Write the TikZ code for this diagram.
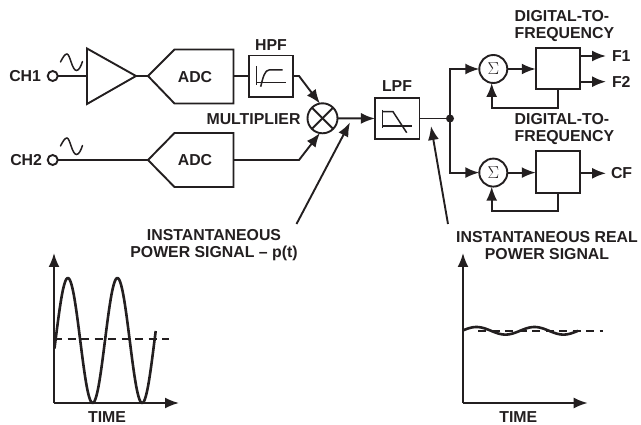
\documentclass[tikz,border=0pt]{standalone}
\usepackage{fontspec}
\setmainfont{Liberation Sans}
\usetikzlibrary{arrows.meta}
\definecolor{ink}{HTML}{231F20}
\tikzset{
  x=1pt,y=-1pt,
  wire/.style={draw=ink,line width=1.9pt,line join=miter},
  arrowwire/.style={wire,-{Latex[length=14pt,width=11pt]}},
  thin wire/.style={draw=ink,line width=1.5pt},
  boxnode/.style={draw=ink,line width=1.9pt,rectangle,inner sep=0pt,outer sep=0pt},
  roundnode/.style={draw=ink,line width=1.9pt,circle,inner sep=0pt,outer sep=0pt},
  label/.style={font=\fontsize{15.85}{17}\selectfont\bfseries,text=ink,inner sep=0pt,outer sep=0pt},
  twoline/.style={label,align=center},
  leftlines/.style={label,align=left,anchor=west},
  dashline/.style={draw=ink,line width=1.7pt,dash pattern=on 8pt off 5.5pt},
  sigmatext/.style={font=\fontsize{17}{17}\selectfont,text=ink},
}
\begin{document}
\begin{tikzpicture}
\useasboundingbox (0,0) rectangle (641,425);
% input terminals
\node[roundnode,minimum size=10pt] (ch1) at (52.7,76) {};
\node[roundnode,minimum size=10pt] (ch2) at (52.7,160) {};
\node[label,anchor=east] (ch1t) at (41,76) {CH1};
\node[label,anchor=east] (ch2t) at (42,160) {CH2};
% sine marks
\draw[thin wire,line cap=round] (60.5,62) .. controls (63,57) and (65,54) .. (67,54) .. controls (70,54) and (72,70.5) .. (76.5,70.5) .. controls (79,70.5) and (81,66) .. (82.5,61.5);
\draw[thin wire,line cap=round] (60.5,146) .. controls (63,141) and (65,138) .. (67,138) .. controls (70,138) and (72,154.5) .. (76.5,154.5) .. controls (79,154.5) and (81,150) .. (82.5,145.5);
% amplifier and ADCs
\coordinate (ampin) at (87,76);
\coordinate (ampout) at (136,76);
\draw[wire,line join=miter] (87,48.5) -- (ampout) -- (87,104) -- cycle;
\coordinate (adcAin) at (148,76);
\coordinate (adcAout) at (233.5,76);
\draw[wire] (adcAin) -- (174.5,49.5) -- (233.5,49.5) -- (233.5,103.5) -- (174.5,103.5) -- cycle;
\node[label] (adcA) at (195,77) {ADC};
\coordinate (adcBin) at (148,160);
\coordinate (adcBout) at (233.5,160);
\draw[wire] (adcBin) -- (174.5,133) -- (233.5,133) -- (233.5,187) -- (174.5,187) -- cycle;
\node[label] (adcB) at (195,160) {ADC};
% filters
\node[boxnode,minimum width=44.5pt,minimum height=41.5pt] (hpf) at (270.8,76.3) {};
\node[label] (hpft) at (271,45.5) {HPF};
\draw[thin wire] (256.7,66) -- (256.7,85);
\draw[thin wire] (256.7,82.3) -- (286,82.3);
\draw[thin wire] (260.7,86.7) .. controls (263,77) and (265,70) .. (269,70) -- (282.7,70);
\node[boxnode,minimum width=44.5pt,minimum height=41.5pt] (lpf) at (397.2,118.5) {};
\node[label] (lpft) at (397,86) {LPF};
\draw[thin wire] (382.7,110) -- (382.7,127.7);
\draw[thin wire] (382.7,126) -- (411.7,126);
\draw[thin wire] (382.7,111.7) -- (393,111.7) -- (406.7,132.7);
% multiplier
\node[roundnode,minimum size=30pt] (mul) at (322.5,118.3) {};
\draw[wire] (mul.45) -- (mul.225);
\draw[wire] (mul.135) -- (mul.315);
\node[label,anchor=east] (mult) at (300.5,119) {MULTIPLIER};
% summers and converters
\node[roundnode,minimum size=28pt,sigmatext] (sumA) at (493.3,69) {$\Sigma$};
\node[roundnode,minimum size=28pt,sigmatext] (sumB) at (493.3,172.6) {$\Sigma$};
\node[boxnode,minimum width=44.5pt,minimum height=41.5pt] (dfA) at (558,68.5) {};
\node[boxnode,minimum width=44.5pt,minimum height=41.5pt] (dfB) at (558,172) {};
\node[leftlines] (dfAt) at (514.7,26.5) {DIGITAL-TO-\\FREQUENCY};
\node[leftlines] (dfBt) at (514.7,129) {DIGITAL-TO-\\FREQUENCY};
\node[circle,fill=ink,inner sep=0pt,minimum size=8pt] (junc) at (450,118.5) {};
% outputs
\node[label,anchor=west] (f1) at (612,56.5) {F1};
\node[label,anchor=west] (f2) at (612,82) {F2};
\node[label,anchor=west] (cf) at (611,173) {CF};
% connectors
\draw[wire] (ch1) -- (ampin);
\draw[wire] (ampout) -- (adcAin);
\draw[wire] (adcAout) -- (hpf.west|-adcAout);
\draw[wire] (ch2) -- (adcBin);
\coordinate (hpfk) at (299,76);
\coordinate (mulk) at (299,160);
\draw[arrowwire] (hpf.east|-hpfk) -- (hpfk) -- (mul.100);
\draw[arrowwire] (adcBout) -- (mulk) -- (mul.260);
\draw[arrowwire] (mul.east) -- (lpf.west);
\draw[wire] (lpf.east) -- (junc);
\draw[arrowwire] (junc.center) |- (sumA.west);
\draw[arrowwire] (junc.center) |- (sumB.west);
\draw[arrowwire] (sumA.east) -- (dfA.west|-sumA);
\draw[arrowwire] (sumB.east) -- (dfB.west|-sumB);
\coordinate (f1e) at (606,56);
\coordinate (f2e) at (606,81.7);
\coordinate (cfe) at (606,173.3);
\draw[arrowwire] (dfA.east|-f1e) -- (f1e);
\draw[arrowwire] (dfA.east|-f2e) -- (f2e);
\draw[arrowwire] (dfB.east|-cfe) -- (cfe);
\coordinate (fbA) at (558.3,108);
\coordinate (fbB) at (558.3,211);
\coordinate (fbAl) at (491.7,108);
\coordinate (fbBl) at (491.7,211);
\draw[arrowwire] (dfA.south-|fbA) -- (fbA) -- (fbAl) -- (sumA.south-|fbAl);
\draw[arrowwire] (dfB.south-|fbB) -- (fbB) -- (fbBl) -- (sumB.south-|fbBl);
% signal callouts
\node[twoline] (pt) at (214,245.5) {INSTANTANEOUS\\POWER SIGNAL – p(t)};
\node[twoline] (rp) at (547,245.5) {INSTANTANEOUS REAL\\POWER SIGNAL};
\coordinate (ptfrom) at (296.5,224);
\coordinate (pttip) at (350,122.5);
\coordinate (rpfrom) at (448,224);
\coordinate (rptip) at (431,126);
\draw[arrowwire] (ptfrom) -- (pttip);
\draw[arrowwire] (rpfrom) -- (rptip);
% left plot
\coordinate (lo) at (54,403);
\coordinate (ly) at (54,253);
\coordinate (lx) at (179,403);
\draw[arrowwire] (lo) -- (ly);
\draw[arrowwire] (lo) -- (lx);
\draw[dashline] (54,339) -- (169,339);
\draw[draw=ink,line width=2.6pt,line join=round,smooth,samples=120,domain=54.5:155.7,variable=\t] plot ({\t},{340.5-62.5*sin(7.2727*(\t-55.5))});
\node[label] (ltime) at (107,417) {TIME};
% right plot
\coordinate (ro) at (463,403);
\coordinate (ry) at (463,253);
\coordinate (rx) at (587.7,403);
\draw[arrowwire] (ro) -- (ry);
\draw[arrowwire] (ro) -- (rx);
\draw[dashline] (478,331) -- (603,331);
\draw[draw=ink,line width=2.6pt,smooth,samples=80,domain=463:578,variable=\t] plot ({\t},{330.8-3.8*sin(6.2069*(\t-462))});
\node[label] (rtime) at (518.3,417) {TIME};
\end{tikzpicture}
\end{document}
